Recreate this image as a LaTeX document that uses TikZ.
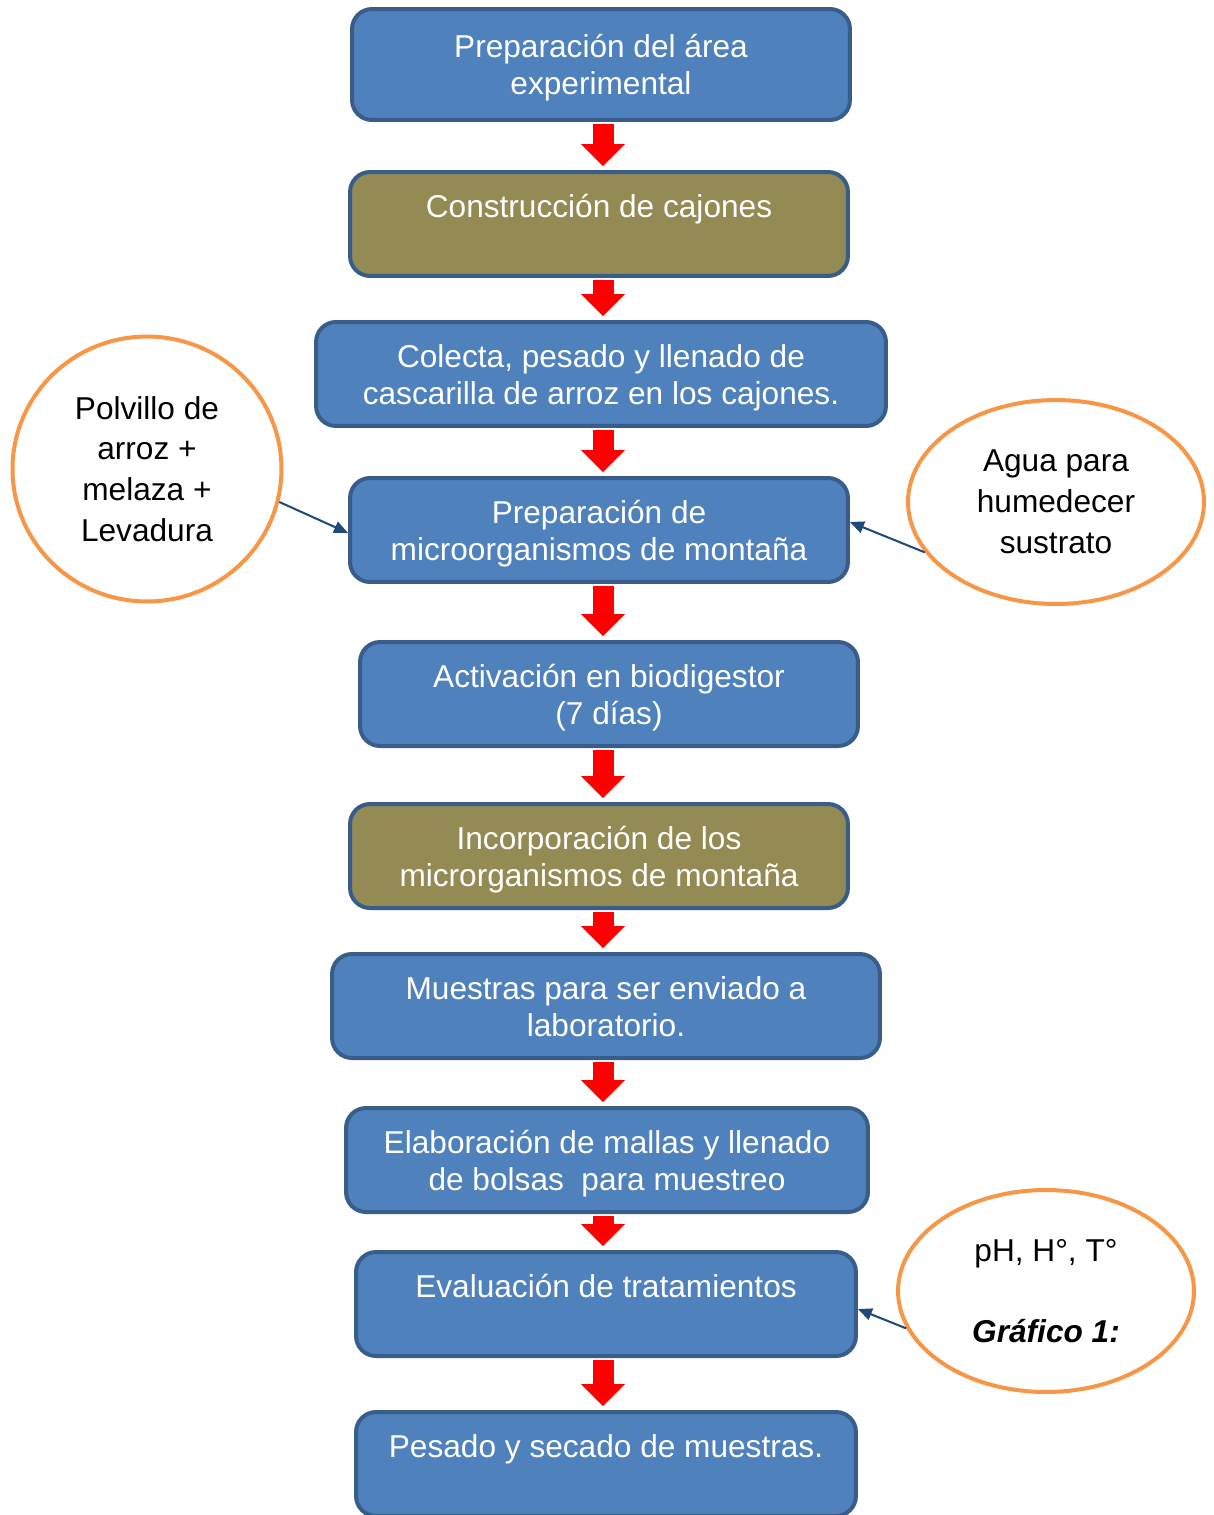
\documentclass[tikz,border=0pt]{standalone}
\usepackage{fontspec}
\setmainfont{Liberation Sans}
\usetikzlibrary{shapes.geometric,arrows.meta}
\definecolor{boxblue}{HTML}{4F81BD}
\definecolor{boxline}{HTML}{385D8A}
\definecolor{boxolive}{HTML}{948A54}
\definecolor{ring}{HTML}{F79646}
\definecolor{linkblue}{HTML}{1F497D}
\newcommand{\steptop}{\rule{0pt}{1.1em}}
\begin{document}
\begin{tikzpicture} [x=0.02cm,y=-0.02cm,
		box/.style={draw=boxline,line width=0.08cm,fill=boxblue,rounded corners=0.4cm,
			minimum width=9.96cm,minimum height=2.08cm,text=white,align=center,
			font=\fontsize{18}{21}\selectfont},
		olivebox/.style={box,fill=boxolive},
		bubble/.style={ellipse,draw=ring,line width=0.08cm,fill=white,inner sep=0pt,
			align=center,font=\fontsize{18}{23.2}\selectfont},
		flow/.style={draw=red,line width=0.42cm,shorten <=0.04cm,shorten >=0.08cm,
			-{Triangle[length=0.44cm,width=0.88cm,line width=0pt]}},
		link/.style={draw=linkblue,line width=1.15pt,-{Triangle[length=0.28cm,width=0.24cm]}}]
		\useasboundingbox (0,0) rectangle (1214,1515);
		% steps
		\node [box,minimum height=2.22cm] (b1) at (601,64.5) {\steptop Preparación del área\\experimental\strut};
		\node [olivebox] (b2) at (599,224) {\steptop Construcción de cajones\\\strut};
		\node [box,minimum width=11.4cm] (b3) at (601,374) {\steptop Colecta, pesado y llenado de\\cascarilla de arroz en los cajones.\strut};
		\node [box] (b4) at (599,530) {\steptop Preparación de\\microorganismos de montaña\strut};
		\node [box] (b5) at (609,694) {\steptop Activación en biodigestor\\(7 días)\strut};
		\node [olivebox] (b6) at (599,856) {\steptop Incorporación de los\\microrganismos de montaña\strut};
		\node [box,minimum width=10.96cm] (b7) at (606,1006) {\steptop Muestras para ser enviado a\\laboratorio.\strut};
		\node [box,minimum width=10.44cm] (b8) at (607,1160) {\steptop Elaboración de mallas y llenado\\de bolsas\ \ para muestreo\strut};
		\node [box,minimum width=10cm] (b9) at (606,1304) {\steptop Evaluación de tratamientos\\\strut};
		\node [box,minimum width=10cm] (b10) at (606,1464) {\steptop Pesado y secado de muestras.\\\strut};
		% inputs
		\node [bubble,minimum width=5.38cm,minimum height=5.3cm] (c1) at (147,469) {Polvillo de\\arroz +\\melaza +\\Levadura};
		\node [bubble,minimum width=5.92cm,minimum height=4.08cm] (c2) at (1056,502) {Agua para\\humedecer\\sustrato};
		\node [bubble,minimum width=5.92cm,minimum height=4.04cm] (c3) at (1046,1291) {pH, H°, T°\\\strut\\\textbf{\textit{Gráfico 1:}}};
		% red arrows
		\coordinate (axis) at (603,0);
		\draw [flow] (axis |- b1.south) -- (axis |- b2.north);
		\draw [flow] (axis |- b2.south) -- (axis |- b3.north);
		\draw [flow] (axis |- b3.south) -- (axis |- b4.north);
		\draw [flow] (axis |- b4.south) -- (axis |- b5.north);
		\draw [flow] (axis |- b5.south) -- (axis |- b6.north);
		\draw [flow] (axis |- b6.south) -- (axis |- b7.north);
		\draw [flow] (axis |- b7.south) -- (axis |- b8.north);
		\draw [flow] (axis |- b8.south) -- (axis |- b9.north);
		\draw [flow] (axis |- b9.south) -- (axis |- b10.north);
		% side links
		\draw [link] (c1.-14) -- ([yshift=-0.06cm]b4.west);
		\draw [link] (c2.201) -- ([yshift=0.16cm]b4.east);
		\draw [link] (c3.195) -- ([yshift=-0.1cm]b9.east);
	\end{tikzpicture}
\end{document}
